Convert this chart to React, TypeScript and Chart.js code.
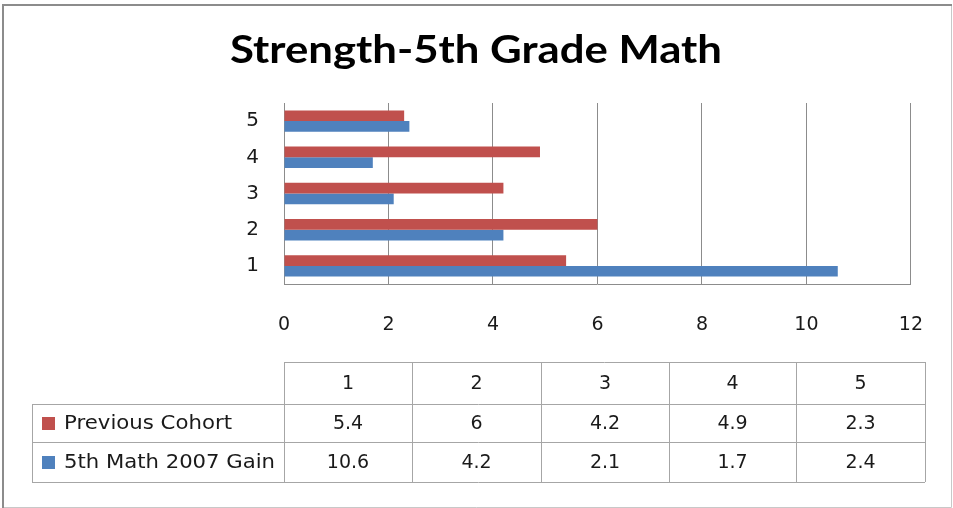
import React, { useEffect, useRef } from "react";
import { Chart, registerables } from "chart.js";

Chart.register(...registerables);

const title = "Strength-5th Grade Math";
const categories = ["1", "2", "3", "4", "5"];
const seriesNames = ["Previous Cohort", "5th Math 2007 Gain"];
const previousCohort = [5.4, 6, 4.2, 4.9, 2.3];
const mathGain2007 = [10.6, 4.2, 2.1, 1.7, 2.4];
const xTicks = [0, 2, 4, 6, 8, 10, 12];

const RED = "#C0504D";
const BLUE = "#4F81BD";
const TITLE_FONT = "Lato, 'Open Sans', sans-serif";
const FONT = "'DejaVu Sans', 'Open Sans', sans-serif";

const decorPlugin = {
  id: "decor",
  afterDraw(chart: any) {
    const ctx = chart.ctx as CanvasRenderingContext2D;
    ctx.save();
    // outer frame
    ctx.strokeStyle = "#c8c8c8";
    ctx.lineWidth = 1;
    ctx.beginPath();
    ctx.moveTo(951.5, 4);
    ctx.lineTo(951.5, 507.5);
    ctx.lineTo(2, 507.5);
    ctx.stroke();
    ctx.strokeStyle = "#8c8c8c";
    ctx.lineWidth = 2;
    ctx.beginPath();
    ctx.moveTo(3, 508);
    ctx.lineTo(3, 5);
    ctx.lineTo(952, 5);
    ctx.stroke();

    // title (horizontally stretched to the original's width)
    ctx.fillStyle = "#000";
    ctx.font = `bold 39px ${TITLE_FONT}`;
    ctx.textAlign = "center";
    ctx.textBaseline = "middle";
    const w = ctx.measureText(title).width;
    ctx.save();
    ctx.translate(476, 50);
    ctx.scale(492 / w, 1);
    ctx.fillText(title, 0, 0);
    ctx.restore();

    // data table
    const colX = [284, 412, 541, 669, 796, 925];
    const rowY = [362, 404, 442, 482];
    const left = 32;
    ctx.strokeStyle = "#a6a6a6";
    ctx.lineWidth = 1;
    ctx.beginPath();
    ctx.moveTo(colX[0], rowY[0] + 0.5);
    ctx.lineTo(colX[5], rowY[0] + 0.5);
    for (let r = 1; r < rowY.length; r++) {
      ctx.moveTo(left, rowY[r] + 0.5);
      ctx.lineTo(colX[5], rowY[r] + 0.5);
    }
    for (let c = 0; c < colX.length; c++) {
      ctx.moveTo(colX[c] + 0.5, rowY[0]);
      ctx.lineTo(colX[c] + 0.5, rowY[3]);
    }
    ctx.moveTo(left + 0.5, rowY[1]);
    ctx.lineTo(left + 0.5, rowY[3]);
    ctx.stroke();

    ctx.fillStyle = "#1a1a1a";
    ctx.font = `19px ${FONT}`;
    ctx.textAlign = "center";
    ctx.textBaseline = "middle";
    const rows = [previousCohort, mathGain2007];
    const colors = [RED, BLUE];
    for (let c = 0; c < categories.length; c++) {
      const cx = (colX[c] + colX[c + 1]) / 2;
      ctx.fillText(categories[c], cx, (rowY[0] + rowY[1]) / 2 + 1);
      for (let r = 0; r < rows.length; r++) {
        ctx.fillText(String(rows[r][c]), cx, (rowY[r + 1] + rowY[r + 2]) / 2 + 1);
      }
    }
    ctx.textAlign = "left";
    const labelEnds = [232, 275];
    for (let r = 0; r < rows.length; r++) {
      const cy = (rowY[r + 1] + rowY[r + 2]) / 2;
      ctx.fillStyle = colors[r];
      ctx.fillRect(42, cy - 6, 13, 13);
      ctx.fillStyle = "#1a1a1a";
      const tw = ctx.measureText(seriesNames[r]).width;
      ctx.save();
      ctx.translate(64, cy + 1);
      ctx.scale((labelEnds[r] - 64) / tw, 1);
      ctx.fillText(seriesNames[r], 0, 0);
      ctx.restore();
    }
    ctx.restore();
  },
};

export default function App() {
  const ref = useRef<HTMLCanvasElement | null>(null);
  useEffect(() => {
    if (!ref.current) return;
    const labels = [...categories].reverse();
    const chart = new Chart(ref.current, {
      type: "bar",
      data: {
        labels,
        datasets: [
          {
            label: seriesNames[0],
            data: [...previousCohort].reverse(),
            backgroundColor: RED,
            categoryPercentage: 0.59,
            barPercentage: 1,
          },
          {
            label: seriesNames[1],
            data: [...mathGain2007].reverse(),
            backgroundColor: BLUE,
            categoryPercentage: 0.59,
            barPercentage: 1,
          },
        ],
      },
      options: {
        indexAxis: "y",
        responsive: false,
        animation: false,
        layout: { padding: { left: 224, right: 42, top: 103, bottom: 164 } },
        plugins: { legend: { display: false }, tooltip: { enabled: false }, title: { display: false } },
        scales: {
          x: {
            min: 0,
            max: 12,
            afterBuildTicks(scale: any) {
              scale.ticks = xTicks.map((v) => ({ value: v }));
            },
            afterFit(scale: any) {
              scale.height = 60;
            },
            grid: { display: true, color: "#8c8c8c", drawTicks: false },
            border: { display: true, color: "#8c8c8c" },
            ticks: { padding: 30, color: "#1a1a1a", font: { family: FONT, size: 19 } },
          },
          y: {
            afterFit(scale: any) {
              scale.width = 60;
            },
            grid: { display: false, drawTicks: false },
            border: { display: true, color: "#8c8c8c" },
            ticks: { padding: 25, color: "#1a1a1a", font: { family: FONT, size: 20 } },
          },
        },
      },
      plugins: [decorPlugin],
    } as any);
    return () => chart.destroy();
  }, []);
  return (
    <div style={{ position: "absolute", left: 0, top: 0, width: 953, height: 508, background: "#fff" }}>
      <canvas ref={ref} width={953} height={508} style={{ display: "block", width: 953, height: 508 }} />
    </div>
  );
}
